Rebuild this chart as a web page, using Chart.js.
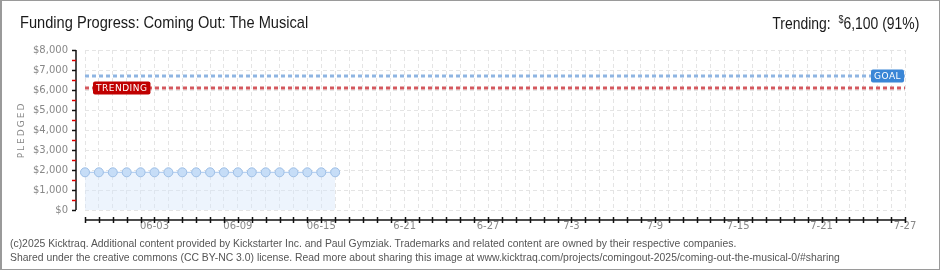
<!DOCTYPE html>
<html>
<head>
<meta charset="utf-8">
<script src="https://cdn.jsdelivr.net/npm/chart.js@4/dist/chart.umd.min.js"></script>
<style>
  body { margin: 0; background: #fff; }
  #wrap { position: relative; width: 940px; height: 270px; box-sizing: border-box; border: 1px solid #9a9a9a; border-left-width: 2px; overflow: hidden; }
  #chart { position: absolute; left: -2px; top: -1px; }
  .txt { position: absolute; white-space: nowrap; font-family: 'Liberation Sans', 'DejaVu Sans', sans-serif; color: #1a1a1a; }
  #title { left: 18px; top: 12px; font-size: 17px; transform: scaleX(0.86); transform-origin: left top; }
  #trend { right: 20px; top: 12px; font-size: 17px; transform: scaleX(0.82); transform-origin: right top; }
  #trend sup { font-size: 11px; vertical-align: 6px; }
  .foot { left: 8px; font-size: 10.5px; color: #555; transform: scaleX(0.99); transform-origin: left top; }
</style>
</head>
<body>
<div id="wrap">
  <canvas id="chart" width="940" height="270"></canvas>
  <div class="txt" id="title">Funding Progress: Coming Out: The Musical</div>
  <div class="txt" id="trend">Trending:&nbsp; <sup>$</sup>6,100 (91%)</div>
  <div class="txt foot" style="top:236px">(c)2025 Kicktraq. Additional content provided by Kickstarter Inc. and Paul Gymziak. Trademarks and related content are owned by their respective companies.</div>
  <div class="txt foot" style="top:250px">Shared under the creative commons (CC BY-NC 3.0) license. Read more about sharing this image at www.kicktraq.com/projects/comingout-2025/coming-out-the-musical-0/#sharing</div>
</div>
<script>
// Data ------------------------------------------------------------------------------

var dates = [
    '05-29', '05-30', '05-31',
    '06-01', '06-02', '06-03', '06-04', '06-05', '06-06', '06-07', '06-08', '06-09', '06-10',
    '06-11', '06-12', '06-13', '06-14', '06-15', '06-16', '06-17', '06-18', '06-19', '06-20',
    '06-21', '06-22', '06-23', '06-24', '06-25', '06-26', '06-27', '06-28', '06-29', '06-30',
    '07-01', '07-02', '07-03', '07-04', '07-05', '07-06', '07-07', '07-08', '07-09', '07-10',
    '07-11', '07-12', '07-13', '07-14', '07-15', '07-16', '07-17', '07-18', '07-19', '07-20',
    '07-21', '07-22', '07-23', '07-24', '07-25', '07-26', '07-27'
];

var pledged = [1885, 1885, 1885, 1885, 1885, 1885, 1885, 1885, 1885, 1885,
               1885, 1885, 1885, 1885, 1885, 1885, 1885, 1885, 1885];

var tickDates = ['06-03', '06-09', '06-15', '06-21', '06-27', '07-03', '07-09', '07-15', '07-21', '07-27'];
var tickText  = ['06-03', '06-09', '06-15', '6-21',  '6-27',  '7-3',   '7-9',   '7-15',  '7-21',  '7-27'];

var GOAL = 6700;
var TRENDING = 6100;

// Constants ------------------------------------------------------------------------------

var TICK_FONT = { family: 'DejaVu Sans', size: 10 };
var GRID_COLOR = '#e4e4e4';
var GRID_DASH = [4, 3];

// Plugin: axes, badges, axis title --------------------------------------------------------

var decor = {
    id: 'decor',
    afterDraw: function (chart) {
        var ctx = chart.ctx;
        var area = chart.chartArea;
        var x = chart.scales.x;
        var y = chart.scales.y;
        ctx.save();

        // y axis line and ticks
        var ax = area.left - 9;
        ctx.strokeStyle = '#111';
        ctx.lineWidth = 1.5;
        ctx.beginPath();
        ctx.moveTo(ax, area.top);
        ctx.lineTo(ax, area.bottom);
        ctx.stroke();
        for (var v = 0; v <= 8000; v += 500) {
            var py = Math.round(y.getPixelForValue(v)) + 0.5;
            ctx.strokeStyle = v % 1000 === 0 ? '#111' : '#dd0000';
            ctx.beginPath();
            ctx.moveTo(ax - 4, py);
            ctx.lineTo(ax, py);
            ctx.stroke();
        }

        // x axis line and day ticks
        var ay = area.bottom + 10;
        ctx.strokeStyle = '#111';
        ctx.beginPath();
        ctx.moveTo(area.left, ay);
        ctx.lineTo(area.right, ay);
        ctx.stroke();
        for (var i = 0; i < dates.length; i++) {
            var px = Math.round(x.getPixelForValue(i)) + 0.5;
            ctx.beginPath();
            ctx.moveTo(px, ay - 3);
            ctx.lineTo(px, ay + 3);
            ctx.stroke();
        }

        // axis title
        ctx.translate(22, (area.top + area.bottom) / 2);
        ctx.rotate(-Math.PI / 2);
        ctx.fillStyle = '#888';
        ctx.font = '9px DejaVu Sans';
        ctx.letterSpacing = '2px';
        ctx.textAlign = 'center';
        ctx.textBaseline = 'middle';
        ctx.fillText('PLEDGED', 0, 0);
        ctx.restore();

        // badges
        badge(ctx, 'TRENDING', area.left + 8, y.getPixelForValue(TRENDING), '#c00000');
        badge(ctx, 'GOAL', area.right - 34, y.getPixelForValue(GOAL), '#3a86d6');
    }
};

function badge(ctx, text, left, cy, color) {
    ctx.save();
    ctx.font = '9px DejaVu Sans';
    ctx.letterSpacing = '0.5px';
    var w = ctx.measureText(text).width + 6;
    ctx.fillStyle = color;
    ctx.beginPath();
    ctx.roundRect(left, Math.round(cy) - 6.5, w, 13, 2);
    ctx.fill();
    ctx.fillStyle = '#fff';
    ctx.textBaseline = 'middle';
    ctx.fillText(text, left + 3, Math.round(cy) + 0.5);
    ctx.restore();
}

// Chart ------------------------------------------------------------------------------

var context = document.getElementById('chart').getContext('2d');

var chart = new Chart(context, {
    type: 'line',
    data: {
        labels: dates,
        datasets: [{
            label: 'Pledged',
            data: pledged,
            borderColor: '#a9c9ee',
            borderWidth: 1,
            backgroundColor: 'rgba(214,230,250,0.45)',
            fill: 'origin',
            pointRadius: 4.5,
            pointBackgroundColor: '#c6ddf7',
            pointBorderColor: '#9ebfe6',
            pointBorderWidth: 1
        }, {
            label: 'Goal',
            data: [{ x: dates[0], y: GOAL }, { x: dates[dates.length - 1], y: GOAL }],
            borderColor: '#8fb5e2',
            borderWidth: 3,
            borderDash: [4, 3],
            pointRadius: 0,
            fill: false
        }, {
            label: 'Trending',
            data: [{ x: dates[0], y: TRENDING }, { x: dates[dates.length - 1], y: TRENDING }],
            borderColor: '#d4595f',
            borderWidth: 3,
            borderDash: [4, 3],
            pointRadius: 0,
            fill: false
        }]
    },
    options: {
        responsive: false,
        animation: false,
        layout: { padding: { top: 50, right: 35, left: 0, bottom: 0 } },
        plugins: { legend: { display: false }, tooltip: { enabled: false } },
        scales: {
            x: {
                type: 'category',
                offset: false,
                border: { display: false, dash: GRID_DASH },
                grid: { color: GRID_COLOR, drawTicks: false },
                ticks: {
                    autoSkip: false,
                    maxRotation: 0,
                    padding: 10,
                    color: '#888',
                    font: TICK_FONT,
                    callback: function (val, idx) {
                        var k = tickDates.indexOf(dates[idx]);
                        return k >= 0 ? tickText[k] : '';
                    }
                },
                afterFit: function (scale) { scale.height = 60; }
            },
            y: {
                min: 0,
                max: 8000,
                border: { display: false, dash: GRID_DASH },
                grid: { color: GRID_COLOR, drawTicks: false },
                ticks: {
                    stepSize: 500,
                    padding: 17,
                    color: '#888',
                    font: TICK_FONT,
                    callback: function (val) {
                        return val % 1000 === 0 ? '$' + val.toLocaleString('en-US') : '';
                    }
                },
                afterFit: function (scale) { scale.width = 85; }
            }
        }
    },
    plugins: [decor]
});
</script>
</body>
</html>
